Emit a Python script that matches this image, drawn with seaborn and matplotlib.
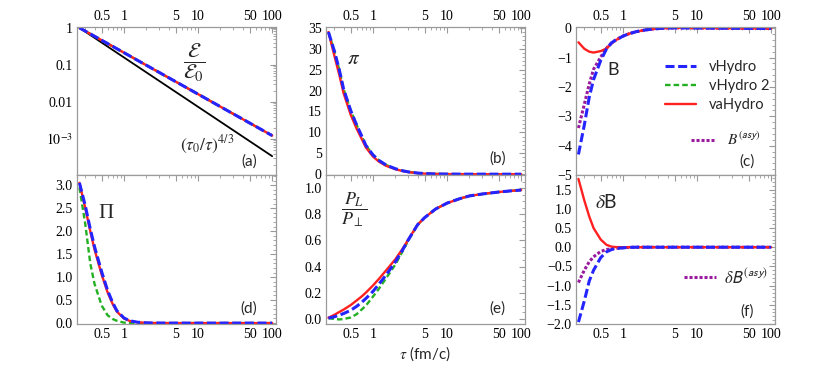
"""
Hydro comparison: 6 panels vs proper time (log axis)
"""
import numpy as np
import matplotlib
matplotlib.use('Agg')
import matplotlib.pyplot as plt
import seaborn as sns
from matplotlib.lines import Line2D
from matplotlib.ticker import FixedLocator, FixedFormatter

# ── Data ──
TAU = [0.25, 0.3, 0.35, 0.4, 0.5, 0.6, 0.7, 0.8, 1.0, 1.2, 1.5, 2, 2.5, 3,
       4, 5, 7, 10, 15, 20, 30, 50, 70, 100]

# (a) energy density ratio (all three models overlap)
E_RATIO = [1.0, 0.815, 0.686, 0.591, 0.460, 0.375, 0.316, 0.272, 0.212, 0.173,
           0.134, 0.0974, 0.0758, 0.0619, 0.0448, 0.0349, 0.0240, 0.0161,
           0.0102, 0.00739, 0.00469, 0.00265, 0.00182, 0.00122]
TAU_REF = [0.25, 1, 10, 100]
E_REF = [1.0, 0.1575, 0.00731, 0.000339]

# (b) shear pi
PI_V = [34.0, 29.5, 25.0, 20.4, 15.2, 11.8, 9.2, 6.9, 4.6, 3.3, 2.2, 1.3,
        0.82, 0.55, 0.27, 0.14, 0.06, 0.025, 0.01, 0.005, 0.002, 0.001, 0.0, 0.0]
PI_A = [34.0, 28.4, 23.8, 19.4, 14.2, 10.9, 8.5, 6.4, 4.2, 3.0, 2.0, 1.2,
        0.75, 0.5, 0.25, 0.13, 0.055, 0.023, 0.01, 0.005, 0.002, 0.001, 0.0, 0.0]

# (c) bag function B
B_V = [-4.3, -3.3, -2.35, -1.75, -1.1, -0.7, -0.5, -0.4, -0.27, -0.19, -0.12,
       -0.06, -0.03, -0.01, 0.005, 0.01, 0.01, 0.006, 0.002, 0.0, -0.003,
       -0.006, -0.008, -0.01]
B_A = [-0.48, -0.7, -0.8, -0.83, -0.78, -0.69, -0.52, -0.41, -0.27, -0.19,
       -0.12, -0.06, -0.03, -0.01, 0.005, 0.01, 0.01, 0.006, 0.002, 0.0,
       -0.003, -0.006, -0.008, -0.01]
B_ASY = [-3.4, -2.6, -1.9, -1.4, -0.98, -0.68, -0.5, -0.4, -0.27, -0.19, -0.12,
         -0.06, -0.03, -0.01, 0.005, 0.01, 0.01, 0.006, 0.002, 0.0, -0.003,
         -0.006, -0.008, -0.01]

# (d) bulk Pi
BULK_V = [3.05, 2.55, 2.05, 1.66, 1.11, 0.71, 0.45, 0.27, 0.11, 0.05, 0.02,
          0.005, 0.002, 0.001, 0, 0, 0, 0, 0, 0, 0, 0, 0, 0]
BULK_A = [3.05, 2.5, 2.0, 1.6, 1.05, 0.67, 0.42, 0.25, 0.10, 0.045, 0.018,
          0.005, 0.002, 0.001, 0, 0, 0, 0, 0, 0, 0, 0, 0, 0]
BULK_V2 = [2.95, 2.15, 1.3, 0.85, 0.38, 0.17, 0.09, 0.05, 0.01, 0.003, 0.0,
           0, 0, 0, 0, 0, 0, 0, 0, 0, 0, 0, 0, 0]

# (e) pressure anisotropy P_L / P_T
PLPT_V = [0.005, 0.015, 0.028, 0.04, 0.065, 0.095, 0.125, 0.155, 0.21, 0.265,
          0.335, 0.435, 0.525, 0.605, 0.72, 0.775, 0.84, 0.885, 0.92, 0.94,
          0.955, 0.97, 0.978, 0.985]
PLPT_A = [0.008, 0.03, 0.052, 0.07, 0.105, 0.14, 0.17, 0.2, 0.255, 0.305,
          0.37, 0.455, 0.535, 0.607, 0.72, 0.775, 0.84, 0.885, 0.92, 0.94,
          0.955, 0.97, 0.978, 0.985]
PLPT_V2 = [0.005, -0.002, -0.005, -0.002, 0.01, 0.035, 0.07, 0.1, 0.17, 0.23,
           0.31, 0.415, 0.515, 0.6, 0.72, 0.775, 0.84, 0.885, 0.92, 0.94,
           0.955, 0.97, 0.978, 0.985]

# (f) delta B
DB_A = [1.78, 1.22, 0.8, 0.5, 0.2, 0.06, 0.015, 0.003, 0, 0, 0, 0, 0, 0, 0,
        0, 0, 0, 0, 0, 0, 0, 0, 0]
DB_V = [-1.95, -1.4, -0.88, -0.6, -0.27, -0.12, -0.06, -0.035, -0.015, -0.005,
        0, 0, 0, 0, 0, 0, 0, 0, 0, 0, 0, 0, 0, 0]
DB_ASY = [-0.92, -0.6, -0.38, -0.25, -0.11, -0.06, -0.04, -0.03, -0.015,
          -0.005, 0, 0, 0, 0, 0, 0, 0, 0, 0, 0, 0, 0, 0, 0]

XMAJOR = [0.5, 1, 5, 10, 50, 100]
XMAJOR_LBL = ['0.5', '1', '5', '10', '50', '100']
XMINOR = [0.3, 0.4, 0.6, 0.7, 0.8, 0.9, 2, 3, 4, 6, 7, 8, 9,
          20, 30, 40, 60, 70, 80, 90]

# ── Styles ──
sns.set_style('white')
plt.rcParams.update({
    'font.family': ['Liberation Serif', 'DejaVu Serif'],
    'mathtext.fontset': 'stix',
    'axes.edgecolor': '#9a9a9a', 'axes.linewidth': 0.9,
    'lines.scale_dashes': False,
    'xtick.color': '#9a9a9a', 'ytick.color': '#9a9a9a',
    'xtick.labelcolor': 'black', 'ytick.labelcolor': 'black',
    'xtick.labelsize': 10, 'ytick.labelsize': 10,
})
SANS = 'Lato'

STY = {
    'v2': dict(color='#22b022', lw=1.7, linestyle=(0, (4.0, 2.2))),
    'a': dict(color='#ff2020', lw=1.7, linestyle='-'),
    'v': dict(color='#2424ff', lw=2.2, linestyle=(0, (6.5, 2.6))),
    'asy': dict(color='#9a1a9e', lw=2.2, linestyle=(0, (2.2, 1.4))),
}

fig = plt.figure(figsize=(8.3, 3.65), dpi=100)
COL_L = [0.0928, 0.3928, 0.694]
COL_W = 0.2395
ROW_B = [0.5205, 0.1123]
ROW_H = [0.4055, 0.4082]


def line(ax, y, key, x=TAU, z=2):
    sns.lineplot(x=x, y=y, ax=ax, estimator=None, sort=False, zorder=z, **STY[key])


def frame(ax, row):
    ax.set_xscale('log')
    ax.set_xlim(0.232, 112)
    ax.xaxis.set_major_locator(FixedLocator(XMAJOR))
    ax.xaxis.set_major_formatter(FixedFormatter(XMAJOR_LBL))
    ax.xaxis.set_minor_locator(FixedLocator(XMINOR))
    ax.tick_params(which='both', direction='in', top=True, right=True,
                   labeltop=(row == 0), labelbottom=(row == 1), pad=3)
    ax.tick_params(which='major', length=4, width=0.8)
    ax.tick_params(which='minor', length=2.2, width=0.6)
    ax.set_xlabel('')
    ax.set_ylabel('')


def tag(ax, txt, fx, fy, size=11, **kw):
    kw.setdefault('family', SANS)
    ax.text(fx, fy, txt, transform=ax.transAxes, fontsize=size,
            ha='center', va='center', **kw)


axs = [[fig.add_axes([COL_L[c], ROW_B[r], COL_W, ROW_H[r]]) for c in range(3)]
       for r in range(2)]

# (a)
ax = axs[0][0]
sns.lineplot(x=TAU_REF, y=E_REF, ax=ax, color='black', lw=1.3, estimator=None)
line(ax, E_RATIO, 'v2')
line(ax, E_RATIO, 'a')
line(ax, E_RATIO, 'v')
ax.set_yscale('log')
frame(ax, 0)
ax.set_ylim(1.05e-4, 1.05)
ax.yaxis.set_major_locator(FixedLocator([1e-3, 1e-2, 1e-1, 1]))
ax.yaxis.set_major_formatter(FixedFormatter(['$10^{-3}$', '0.01', '0.1', '1']))
ax.yaxis.set_minor_locator(FixedLocator([k * 10.0 ** e for e in range(-4, 0)
                                         for k in range(2, 10)]))
tag(ax, r'$\dfrac{\mathcal{E}}{\mathcal{E}_0}$', 0.59, 0.76, size=15)
tag(ax, r'$(\tau_0/\tau)^{4/3}$', 0.655, 0.205, size=12.5)
tag(ax, '(a)', 0.865, 0.09)

# (b)
ax = axs[0][1]
line(ax, PI_V, 'v2')
line(ax, PI_A, 'a')
line(ax, PI_V, 'v')
frame(ax, 0)
ax.set_ylim(-0.2, 35.2)
ax.yaxis.set_major_locator(FixedLocator(list(range(0, 36, 5))))
ax.yaxis.set_minor_locator(FixedLocator(list(range(0, 36))))
tag(ax, r'$\pi$', 0.14, 0.79, size=15)
tag(ax, '(b)', 0.865, 0.108)

# (c)
ax = axs[0][2]
line(ax, B_ASY, 'asy', z=1)
line(ax, B_A, 'a')
line(ax, B_V, 'v')
frame(ax, 0)
ax.set_ylim(-5.0, 0.04)
ax.yaxis.set_major_locator(FixedLocator([0, -1, -2, -3, -4, -5]))
ax.yaxis.set_major_formatter(FixedFormatter(['0', '−1', '−2', '−3', '−4', '−5']))
ax.yaxis.set_minor_locator(FixedLocator([-0.2 * i for i in range(26)]))
tag(ax, 'B', 0.186, 0.71, size=13)
tag(ax, '(c)', 0.86, 0.09)
handles = [Line2D([], [], **STY[k]) for k in ('v', 'v2', 'a')]
leg = ax.legend(handles, ['vHydro', 'vHydro 2', 'vaHydro'], loc='upper left',
                bbox_to_anchor=(0.42, 0.815), frameon=False, handlelength=2.1,
                handletextpad=0.9, labelspacing=0.35, borderaxespad=0,
                prop=dict(family=SANS, size=10.5))
ax.add_artist(leg)
ax.legend([Line2D([], [], **STY['asy'])], [r'$B^{(\mathsf{asy})}$'],
          loc='upper left', bbox_to_anchor=(0.55, 0.34), frameon=False,
          handlelength=1.5, handletextpad=0.8, borderaxespad=0,
          prop=dict(family=SANS, size=11))

# (d)
ax = axs[1][0]
line(ax, BULK_V2, 'v2')
line(ax, BULK_A, 'a')
line(ax, BULK_V, 'v')
frame(ax, 1)
ax.set_ylim(-0.02, 3.22)
ax.yaxis.set_major_locator(FixedLocator([0.5 * i for i in range(7)]))
ax.yaxis.set_major_formatter(FixedFormatter([f'{0.5 * i:.1f}' for i in range(7)]))
ax.yaxis.set_minor_locator(FixedLocator([0.1 * i for i in range(33)]))
tag(ax, 'Π', 0.146, 0.745, size=15, family='Liberation Serif')
tag(ax, '(d)', 0.865, 0.107)

# (e)
ax = axs[1][1]
line(ax, PLPT_V2, 'v2')
line(ax, PLPT_A, 'a')
line(ax, PLPT_V, 'v')
frame(ax, 1)
ax.set_ylim(-0.04, 1.10)
ax.yaxis.set_major_locator(FixedLocator([0.2 * i for i in range(6)]))
ax.yaxis.set_major_formatter(FixedFormatter([f'{0.2 * i:.1f}' for i in range(6)]))
ax.yaxis.set_minor_locator(FixedLocator([0.05 * i for i in range(22)]))
tag(ax, r'$\dfrac{P_L}{P_\perp}$', 0.14, 0.765, size=13)
tag(ax, '(e)', 0.86, 0.107)

# (f)
ax = axs[1][2]
line(ax, DB_ASY, 'asy', z=1)
line(ax, DB_A, 'a')
line(ax, DB_V, 'v')
frame(ax, 1)
ax.set_ylim(-2.0, 1.88)
yt = [-2.0 + 0.5 * i for i in range(8)]
ax.yaxis.set_major_locator(FixedLocator(yt))
ax.yaxis.set_major_formatter(FixedFormatter([f'{v:.1f}'.replace('-', '−') for v in yt]))
ax.yaxis.set_minor_locator(FixedLocator([-2.0 + 0.1 * i for i in range(39)]))
tag(ax, r'$\delta$B', 0.15, 0.82, size=14)
tag(ax, '(f)', 0.86, 0.087)
ax.legend([Line2D([], [], **STY['asy'])], [r'$\delta\mathsf{B}^{(\mathsf{asy})}$'],
          loc='upper left', bbox_to_anchor=(0.51, 0.43), frameon=False,
          handlelength=1.9, handletextpad=0.5, borderaxespad=0,
          prop=dict(family=SANS, size=12))

fig.text(0.512, 0.057, r'$\tau$ (fm/c)', ha='center', va='top',
         family=SANS, fontsize=11)

fig.savefig('out.png', dpi=100)
print('[OK] out.png')
